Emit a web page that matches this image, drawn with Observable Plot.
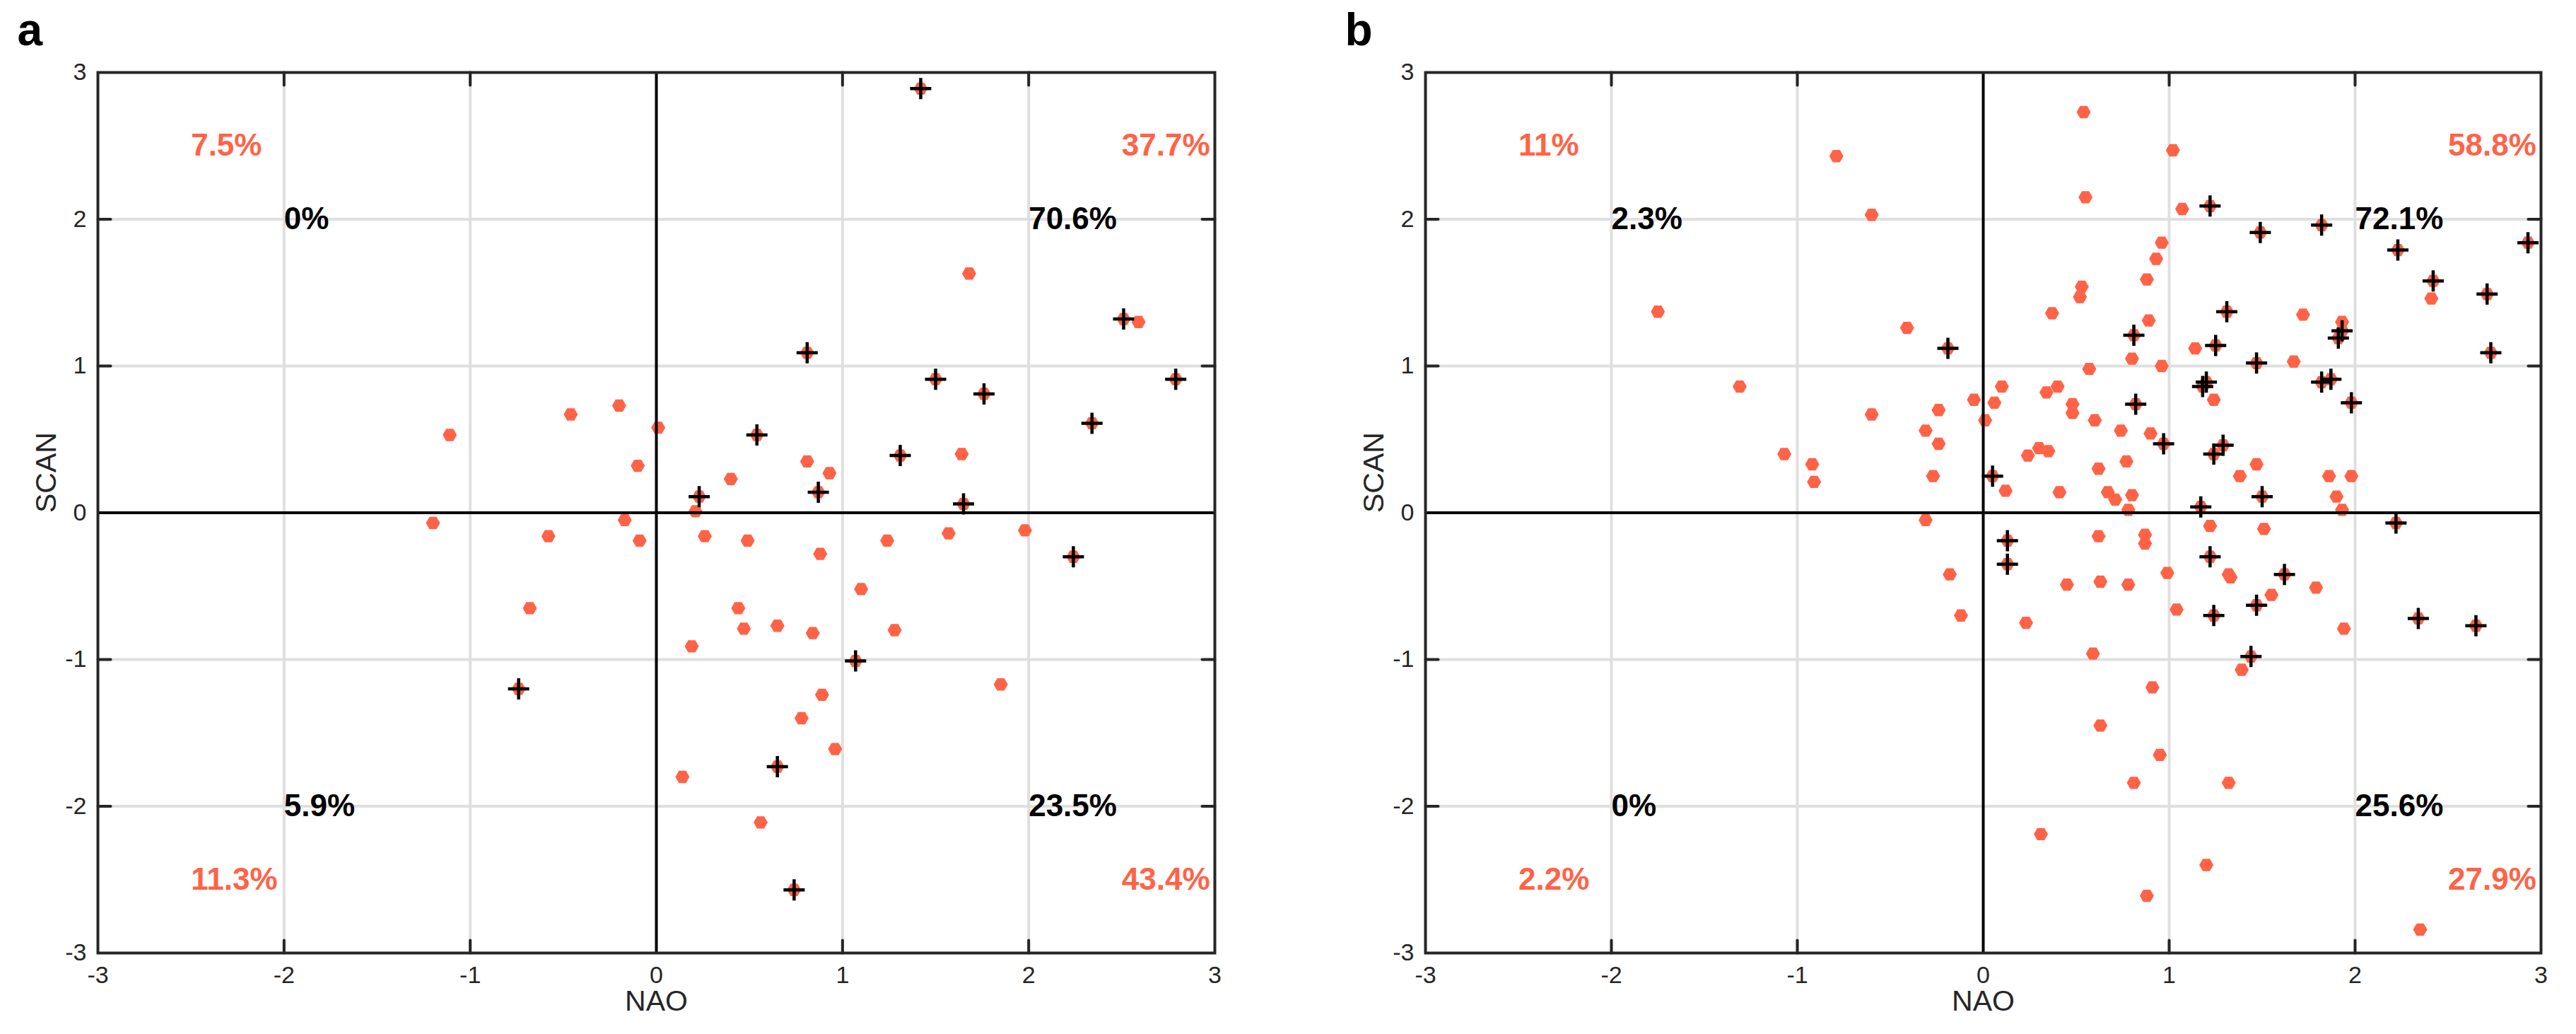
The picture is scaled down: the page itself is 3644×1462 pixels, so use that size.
<!DOCTYPE html>
<html><head><meta charset="utf-8">
<script src="https://cdn.jsdelivr.net/npm/d3@7"></script>
<script src="https://cdn.jsdelivr.net/npm/@observablehq/plot@0.6"></script>
<style>
body{margin:0;background:#fff;}
#wrap{display:flex;width:3644px;height:1462px;background:#fff;}
</style></head><body><div id="wrap"></div>
<script>
// ---------- Panel a data ----------
const aNAO  = [-1.11,-0.46,-0.20,-0.10,0.01, 1.68,2.59,0.81,0.93,0.40,1.64,0.21,
  0.26,0.49,0.88,1.24,1.57,1.98,1.10,0.44,0.47,0.65,0.84,1.28,0.19,1.85,0.89,0.78,0.96,0.14,0.56,
  -1.20,-0.58,-0.17,-0.09,-0.68,
  1.42,2.51,0.81,1.50,1.76,2.79,2.34,0.54,1.31,0.23,0.87,1.65,2.24,1.07,0.65,0.74,-0.74];
const aSCAN = [0.53,0.67,0.73,0.32,0.58, 1.63,1.30,0.35,0.27,0.23,0.40,0.01,
  -0.16,-0.19,-0.28,-0.19,-0.14,-0.12,-0.52,-0.65,-0.79,-0.77,-0.82,-0.80,-0.91,-1.17,-1.24,-1.40,-1.61,-1.80,-2.11,
  -0.07,-0.16,-0.05,-0.19,-0.65,
  2.89,1.32,1.09,0.91,0.81,0.91,0.61,0.53,0.39,0.11,0.14,0.06,-0.30,-1.01,-1.73,-2.57,-1.20];
const aSig  = [0,0,0,0,0, 0,0,0,0,0,0,0,
  0,0,0,0,0,0,0,0,0,0,0,0,0,0,0,0,0,0,0,
  0,0,0,0,0,
  1,1,1,1,1,1,1,1,1,1,1,1,1,1,1,1,1];
const aAllPct = ["7.5%","37.7%","11.3%","43.4%"];   // UL, UR, LL, LR
const aSigPct = ["0%","70.6%","5.9%","23.5%"];

// ---------- Panel b data ----------
const bNAO = [
  -0.79,-0.60,-1.75,-0.41,-0.19,-1.31,-0.60,-0.24,-0.05,-0.31,-0.24,-1.07,-0.92,-0.91,-0.27,
  -0.31,-0.18,-0.12,
  0.54,1.02,0.55,1.07,1.22,1.49,1.82,2.23,2.93,2.42,2.41,2.71,2.73,0.96,0.93,0.88,0.53,0.52,0.37,0.89,
  1.31,1.72,1.93,1.93,1.91,0.81,1.14,1.25,0.80,0.96,0.57,1.47,1.67,1.20,1.18,1.24,1.82,1.87,1.98,
  0.10,0.06,0.01,0.34,0.40,0.48,0.48,0.60,0.82,0.74,0.90,0.97,0.30,0.35,0.24,1.29,1.24,0.77,0.62,
  1.47,1.38,1.86,1.98,0.05,0.12,0.41,0.67,0.71,0.80,0.78,1.50,1.17,1.90,1.93,
  2.22,1.22,1.51,0.13,0.13,0.62,0.87,0.87,1.22,0.99,1.32,1.33,1.62,1.79,1.55,1.47,0.45,0.63,0.78,
  1.04,1.24,0.23,1.94,2.34,2.65,0.59,1.44,1.39,0.91,0.63,0.95,0.81,1.32,0.31,1.20,0.88,2.35];
const bSCAN = [
  2.43,2.03,1.37,1.26,1.12,0.86,0.67,0.70,0.77,0.56,0.47,0.40,0.33,0.21,0.25,
  -0.05,-0.42,-0.70,
  2.73,2.47,2.15,2.07,2.09,1.91,1.96,1.79,1.84,1.58,1.46,1.49,1.09,1.84,1.73,1.59,1.54,1.47,1.36,1.31,
  1.37,1.35,1.30,1.24,1.19,1.21,1.12,1.14,1.05,1.00,0.98,1.02,1.03,0.89,0.86,0.77,0.89,0.91,0.75,
  0.86,0.75,0.63,0.82,0.86,0.74,0.68,0.63,0.74,0.56,0.54,0.47,0.44,0.42,0.39,0.46,0.40,0.35,0.30,
  0.33,0.25,0.25,0.25,0.25,0.15,0.14,0.14,0.09,0.12,0.02,0.11,0.04,0.11,0.02,
  -0.07,-0.09,-0.11,-0.19,-0.35,-0.16,-0.15,-0.21,-0.30,-0.41,-0.42,-0.44,-0.42,-0.51,-0.56,-0.63,-0.49,-0.47,-0.49,
  -0.66,-0.70,-0.75,-0.79,-0.72,-0.77,-0.96,-0.98,-1.07,-1.19,-1.45,-1.65,-1.84,-1.84,-2.19,-2.40,-2.61,-2.84];
const bSig = [
  0,0,0,0,1,0,0,0,0,0,0,0,0,0,0,
  0,0,0,
  0,0,0,0,1,1,1,1,1,1,0,1,1,0,0,0,0,0,0,0,
  1,0,0,1,1,1,0,1,0,0,0,1,0,1,1,0,1,1,1,
  0,0,0,0,0,0,0,0,1,0,0,1,0,0,0,1,1,0,0,
  0,0,0,0,1,0,0,0,0,0,0,1,1,0,0,
  1,0,0,1,1,0,0,0,1,0,0,0,1,0,0,1,0,0,0,
  0,1,0,0,1,1,0,1,0,0,0,0,0,0,0,0,0,0];
const bAllPct = ["11%","58.8%","2.2%","27.9%"];
const bSigPct = ["2.3%","72.1%","0%","25.6%"];

// ---------- shared ----------
const axisTicks  = [-3,-2,-1,0,1,2,3];
const innerTicks = [-2,-1,1,2];
const outerPos = [[-2.5,2.5],[2.5,2.5],[-2.5,-2.5],[2.5,-2.5]];
const innerPos = [[-2,2],[2,2],[-2,-2],[2,-2]];

const RED = "#ff6347", DARK = "#262626";
const FONT = "Liberation Sans, Arial, Helvetica, sans-serif";

const hexSym = {draw(ctx, size){ const r = Math.sqrt(size/Math.PI);
  for (let i=0;i<6;i++){ const a=i*Math.PI/3, px=r*Math.cos(a), py=r*Math.sin(a); if(i) ctx.lineTo(px,py); else ctx.moveTo(px,py);} ctx.closePath(); }};
const plusSym = {draw(ctx, size){ const r = Math.sqrt(size/Math.PI);
  ctx.moveTo(-r,0); ctx.lineTo(r,0); ctx.moveTo(0,-r); ctx.lineTo(0,r); }};
const tickShape = {draw(ctx, l){ ctx.moveTo(0,0); ctx.lineTo(0,-l); }};
const intFmt = d => String(d);

function panel(letter, xs, ys, sig, allPct, sigPct, ml, mr){
  const pts = xs.map((x,i)=>({x, y: ys[i], s: sig[i]}));
  const tickOpts = {length: 18, anchor: "start", shape: tickShape, stroke: DARK, strokeWidth: 4};
  return Plot.plot({
    width: 1822, height: 1462,
    marginLeft: ml, marginRight: mr, marginTop: 102, marginBottom: 115,
    x: {domain: [-3,3]}, y: {domain: [-3,3]},
    style: {fontFamily: FONT, background: "white", overflow: "visible"},
    marks: [
      Plot.gridX(innerTicks, {stroke: "#dfdfdf", strokeOpacity: 1, strokeWidth: 4}),
      Plot.gridY(innerTicks, {stroke: "#dfdfdf", strokeOpacity: 1, strokeWidth: 4}),
      Plot.text(outerPos, {x: d=>d[0], y: d=>d[1], text: (d,i)=>allPct[i], textAnchor: "start",
        lineAnchor: "middle", fontSize: 44, fontWeight: "bold", fill: RED}),
      Plot.text(innerPos, {x: d=>d[0], y: d=>d[1], text: (d,i)=>sigPct[i], textAnchor: "start",
        lineAnchor: "middle", fontSize: 44, fontWeight: "bold", fill: "black"}),
      Plot.dot(pts, {x: "x", y: "y", symbol: hexSym, r: 10, fill: RED, stroke: "none"}),
      Plot.dot(pts.filter(d=>d.s), {x: "x", y: "y", symbol: plusSym, r: 15, fill: "none", stroke: "black", strokeWidth: 4.5}),
      Plot.ruleX([0], {stroke: "black", strokeWidth: 4}),
      Plot.ruleY([0], {stroke: "black", strokeWidth: 4}),
      Plot.vector(innerTicks, {x: d=>d, y: -3, rotate: 0, ...tickOpts}),
      Plot.vector(innerTicks, {x: d=>d, y: 3, rotate: 180, ...tickOpts}),
      Plot.vector(innerTicks, {x: -3, y: d=>d, rotate: 90, ...tickOpts}),
      Plot.vector(innerTicks, {x: 3, y: d=>d, rotate: 270, ...tickOpts}),
      Plot.frame({stroke: DARK, strokeWidth: 4}),
      Plot.axisX({ticks: axisTicks, tickFormat: intFmt, tickSize: 0, tickPadding: 18, fontSize: 34, label: null, color: DARK}),
      Plot.axisY({ticks: axisTicks, tickFormat: intFmt, tickSize: 0, tickPadding: 16, fontSize: 34, label: null, color: DARK}),
      Plot.text(["NAO"], {text: d=>d, frameAnchor: "bottom", dy: 68, lineAnchor: "middle", fontSize: 41, fill: DARK}),
      Plot.text(["SCAN"], {text: d=>d, frameAnchor: "left", dx: -73, rotate: -90, lineAnchor: "middle", fontSize: 41, fill: DARK}),
      Plot.text([letter], {text: d=>d, frameAnchor: "top-left", dx: -114, dy: -39, textAnchor: "start",
        lineAnchor: "bottom", fontSize: 64, fontWeight: "bold", fill: "black"})
    ]
  });
}

const wrap = document.getElementById("wrap");
wrap.appendChild(panel("a", aNAO, aSCAN, aSig, aAllPct, aSigPct, 138, 104));
wrap.appendChild(panel("b", bNAO, bSCAN, bSig, bAllPct, bSigPct, 194, 50));
</script>
</body></html>
